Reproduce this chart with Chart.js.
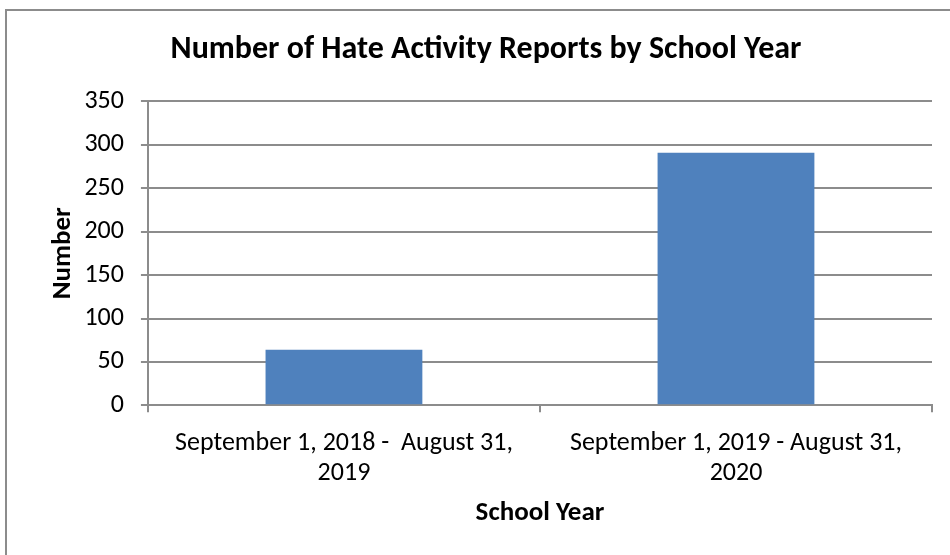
<!DOCTYPE html>
<html>
<head>
<meta charset="utf-8">
<script src="https://cdn.jsdelivr.net/npm/chart.js@4"></script>
<style>
  html, body { margin: 0; padding: 0; background: #fff; }
  #wrap { position: relative; width: 950px; height: 555px; overflow: hidden; }
  #frame { position: absolute; left: 5px; top: 9px; width: 960px; height: 560px; border: 2px solid #8c8c8c; }
  canvas { position: absolute; left: 0; top: 0; }
</style>
</head>
<body>
<div id="wrap">
  <div id="frame"></div>
  <canvas id="hateChart" width="950" height="555"></canvas>
</div>
<script>
// data
const schoolYears = [
  ["September 1, 2018 -  August 31,", "2019"],
  ["September 1, 2019 - August 31,", "2020"]
];
const reportCounts = [64, 291];

const fontFamily = "Calibri, Carlito, 'Liberation Sans Narrow', 'Open Sans', sans-serif";
const gridGray = "#8c8c8c";

const ctx = document.getElementById("hateChart").getContext("2d");
const hateChart = new Chart(ctx, {
  type: "bar",
  data: {
    labels: schoolYears,
    datasets: [
      {
        data: reportCounts,
        backgroundColor: "#4F81BD",
        borderWidth: 0,
        barPercentage: 0.4,
        categoryPercentage: 1,
      },
    ],
  },
  options: {
    responsive: false,
    animation: false,
    layout: {
      padding: { left: 40, right: 18, top: 31, bottom: 26 },
    },
    scales: {
      x: {
        offset: true,
        // labels fit inside their categories, no extra side padding
        afterFit: function (scale) {
          scale.paddingLeft = 0;
          scale.paddingRight = 0;
        },
        grid: {
          offset: true,
          drawOnChartArea: false,
          color: gridGray,
          lineWidth: 2,
          tickLength: 7,
        },
        border: { color: gridGray, width: 2 },
        ticks: {
          color: "#000",
          font: { family: fontFamily, size: 26, lineHeight: 1.12 },
          padding: 17,
          maxRotation: 0,
        },
        title: {
          display: true,
          text: "School Year",
          color: "#000",
          font: { family: fontFamily, size: 27, weight: "bold" },
          padding: { top: -8, bottom: 0 },
        },
      },
      y: {
        min: 0,
        max: 350,
        ticks: {
          stepSize: 50,
          color: "#000",
          font: { family: fontFamily, size: 26 },
          padding: 17,
        },
        grid: {
          color: gridGray,
          lineWidth: 2,
          tickLength: 7,
        },
        border: { color: gridGray, width: 2 },
        title: {
          display: true,
          text: "Number",
          color: "#000",
          font: { family: fontFamily, size: 27, weight: "bold" },
          padding: { top: 7, bottom: -12 },
        },
      },
    },
    plugins: {
      legend: { display: false },
      tooltip: { enabled: false },
      title: {
        display: true,
        text: "Number of Hate Activity Reports by School Year",
        color: "#000",
        font: { family: fontFamily, size: 32, weight: "bold" },
        padding: { top: 0, bottom: 32 },
      },
    },
  },
});
</script>
</body>
</html>
